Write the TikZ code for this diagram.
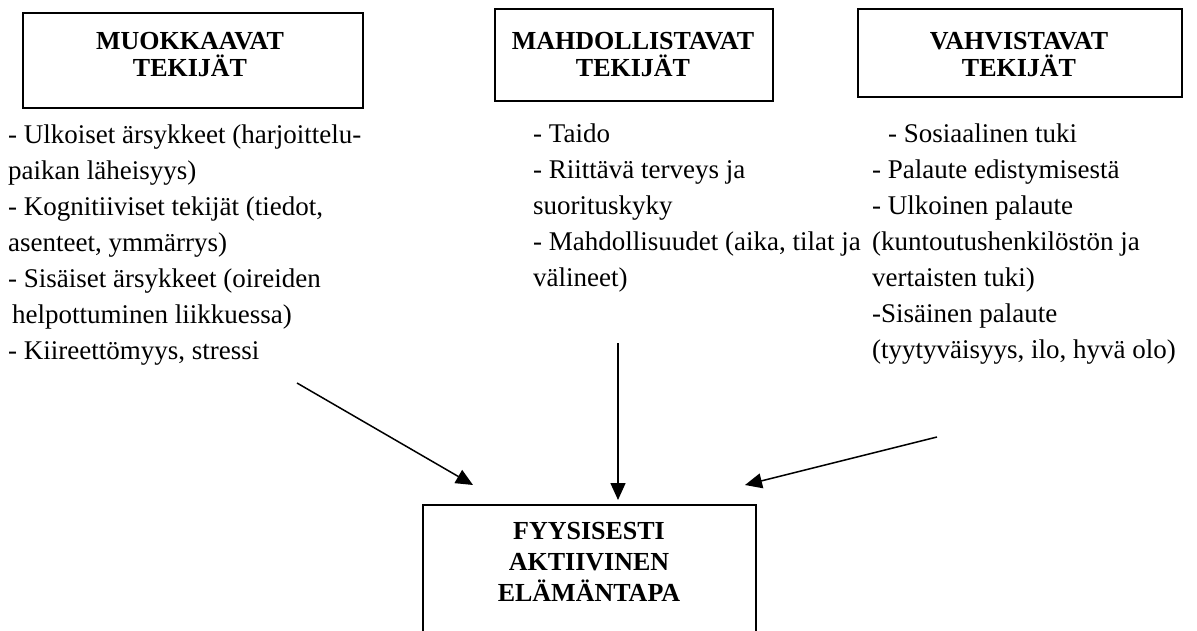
\documentclass[tikz,border=0pt]{standalone}
\usepackage{fontspec}
\setmainfont{Liberation Serif}
\usetikzlibrary{arrows.meta}
\begin{document}
\begin{tikzpicture}[x=1pt,y=-1pt,
  frame/.style={draw, line width=1.6pt, inner sep=0pt, anchor=north west},
  title/.style={inner sep=0pt, align=center, font=\bfseries\fontsize{26}{27}\selectfont},
  item/.style={inner sep=0pt, anchor=base west, font=\fontsize{27}{36}\selectfont},
  flow/.style={line width=1.5pt, -{Triangle[length=17pt,width=15pt]}}
]
\clip (0,0) rectangle (1197,630);

% factor boxes
\node[frame, minimum width=340pt, minimum height=95pt] (mbox) at (22,12) {};
\node[title] (mtitle) at (190,55) {MUOKKAAVAT\\TEKIJÄT};
\node[frame, minimum width=278pt, minimum height=92pt] (hbox) at (494,8) {};
\node[title] (htitle) at (633,55) {MAHDOLLISTAVAT\\TEKIJÄT};
\node[frame, minimum width=324pt, minimum height=88pt] (vbox) at (857,8) {};
\node[title] (vtitle) at (1019,55) {VAHVISTAVAT\\TEKIJÄT};

% outcome box (runs off the lower edge)
\node[frame, minimum width=333pt, minimum height=140pt] (fbox) at (422,504) {};
\node[title, font=\bfseries\fontsize{26}{31}\selectfont] (ftitle) at (589,562)
  {FYYSISESTI\\AKTIIVINEN\\ELÄMÄNTAPA};

% predisposing factors
\node[item] (m1) at (8,143) {- Ulkoiset ärsykkeet (harjoittelu-};
\node[item] (m2) at (8,179) {paikan läheisyys)};
\node[item] (m3) at (8,215) {- Kognitiiviset tekijät (tiedot,};
\node[item] (m4) at (8,251) {asenteet, ymmärrys)};
\node[item] (m5) at (8,287) {- Sisäiset ärsykkeet (oireiden};
\node[item] (m6) at (12,323) {helpottuminen liikkuessa)};
\node[item] (m7) at (8,359) {- Kiireettömyys, stressi};

% enabling factors
\node[item] (h1) at (533,142) {- Taido};
\node[item] (h2) at (533,178) {- Riittävä terveys ja};
\node[item] (h3) at (533,214) {suorituskyky};
\node[item] (h4) at (533,250) {- Mahdollisuudet (aika, tilat ja};
\node[item] (h5) at (533,286) {välineet)};

% reinforcing factors
\node[item] (v1) at (888,142) {- Sosiaalinen tuki};
\node[item] (v2) at (872,178) {- Palaute edistymisestä};
\node[item] (v3) at (872,214) {- Ulkoinen palaute};
\node[item] (v4) at (872,250) {(kuntoutushenkilöstön ja};
\node[item] (v5) at (872,286) {vertaisten tuki)};
\node[item] (v6) at (872,322) {-Sisäinen palaute};
\node[item] (v7) at (872,358) {(tyytyväisyys, ilo, hyvä olo)};

% arrow end points
\coordinate (ls) at (297,383);
\coordinate (lt) at (473,485);
\coordinate (ms) at (618,343);
\coordinate (mt) at (618,500);
\coordinate (rs) at (937,437);
\coordinate (rt) at (745,485);

\draw[flow] (ls) -- (lt);
\draw[flow] (ms) -- (mt);
\draw[flow] (rs) -- (rt);
\end{tikzpicture}
\end{document}
